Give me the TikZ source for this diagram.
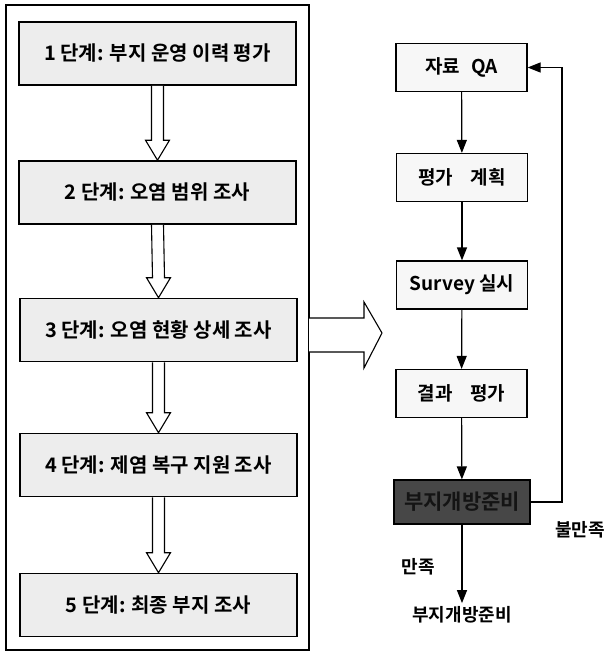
\documentclass[tikz,border=0pt]{standalone}
\usepackage{fontspec}
\newfontfamily\kr{Noto Sans CJK KR}[BoldFont={Noto Sans CJK KR Bold}]
\usetikzlibrary{arrows.meta,calc}
\begin{document}
\begin{tikzpicture}[x=1pt,y=-1pt,
  stepbox/.style={draw=black,line width=1.6pt,fill=gray!14,minimum width=277pt,minimum height=63pt,inner sep=0pt,font=\kr\bfseries\fontsize{20}{22}\selectfont},
  rbox/.style={draw=black,line width=1.2pt,fill=gray!6,minimum width=131pt,minimum height=48pt,inner sep=0pt,font=\kr\bfseries\fontsize{19}{21}\selectfont},
  dbox/.style={draw=black,line width=1.2pt,fill=black!72,minimum width=136pt,minimum height=44pt,inner sep=0pt,font=\kr\bfseries\fontsize{21}{23}\selectfont,text=black!92},
  flow/.style={-{Triangle[length=13pt,width=10pt]},line width=1.2pt},
  hollow/.style={draw=black,line width=1.1pt,fill=white},
  lbl/.style={font=\kr\bfseries\fontsize{18}{20}\selectfont}]
\useasboundingbox (0,0) rectangle (607,659);
\draw[line width=1.2pt] (6,5) rectangle (309,650);
\node[stepbox] (s1) at (157.5,53.5) {1 단계: 부지 운영 이력 평가};
\node[stepbox] (s2) at (157.5,192.5) {2 단계: 오염 범위 조사};
\node[stepbox] (s3) at (158.5,330) {3 단계: 오염 현황 상세 조사};
\node[stepbox] (s4) at (158.5,465) {4 단계: 제염 복구 지원 조사};
\node[stepbox] (s5) at (158.5,605) {5 단계: 최종 부지 조사};
% hollow arrows between steps
\foreach \a/\b in {s1/s2,s2/s3,s3/s4,s4/s5}{
  \path (\a.south) coordinate (p) (\b.north) coordinate (q);
  \draw[hollow] ($(p)+(-6,0)$) -- ($(q)+(-6,-20)$) -- ($(q)+(-12,-20)$) -- (q) -- ($(q)+(12,-20)$) -- ($(q)+(6,-20)$) -- ($(p)+(6,0)$);
}
% big hollow arrow
\coordinate (bt) at (382,333);
\draw[hollow] (309,318) -- (364,318) -- (364,302) -- (bt) -- (364,368) -- (364,352) -- (309,352);
\node[rbox] (r1) at (461.5,67.5) {자료\hspace{0.6em}QA};
\node[rbox] (r2) at (462,177.5) {평가\hspace{0.9em}계획};
\node[rbox] (r3) at (462,285) {\textbf{Survey} 실시};
\node[rbox] (r4) at (461.5,393.5) {결과\hspace{0.9em}평가};
\node[dbox] (r5) at (462,502) {부지개방준비};
\node[lbl] (ok) at (462,615) {부지개방준비};
\node[lbl] (yes) at (418,567) {만족};
\node[lbl] (no) at (580,530) {불만족};
\draw[flow] (r1) -- (r2);
\draw[flow] (r2) -- (r3);
\draw[flow] (r3) -- (r4);
\draw[flow] (r4) -- (r5);
\draw[flow] (r5) -- (ok);
\draw[flow] (r5.east) -- (562,502) -- (562,67.5) -- (r1.east);
\end{tikzpicture}
\end{document}
